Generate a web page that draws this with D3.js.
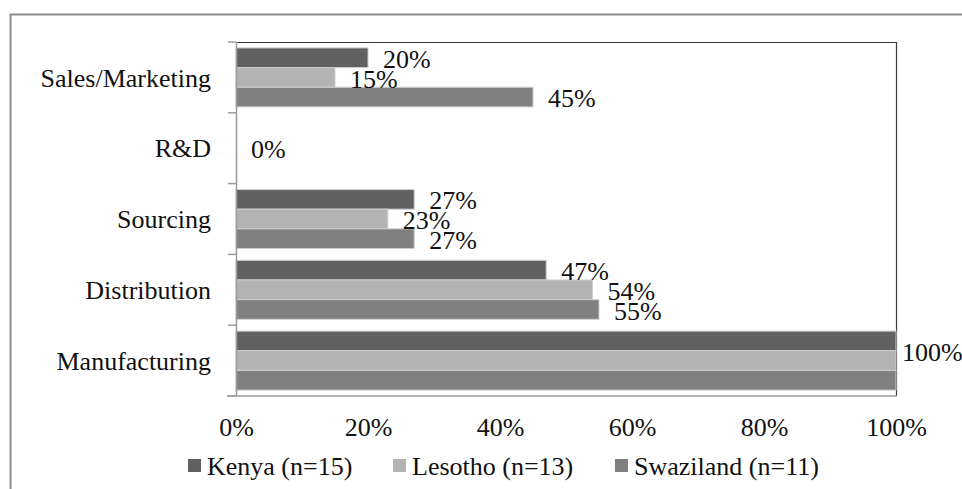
<!DOCTYPE html>
<html>
<head>
<meta charset="utf-8">
<script src="https://cdn.jsdelivr.net/npm/d3@7"></script>
<style>
  body { margin: 0; background: #fff; }
  svg { display: block; font-family: 'Liberation Serif', 'Times New Roman', serif; }
</style>
</head>
<body>
<svg id="chart"></svg>
<script>
'use strict';

// data
var categories = ['Sales/Marketing', 'R&D', 'Sourcing', 'Distribution', 'Manufacturing'];
var series = ['Kenya (n=15)', 'Lesotho (n=13)', 'Swaziland (n=11)'];
var kenya = [20, 0, 27, 47, 100];
var lesotho = [15, 0, 23, 54, 100];
var swaziland = [45, 0, 27, 55, 100];
var xTicks = [0, 20, 40, 60, 80, 100];
var colors = ['#616161', '#b3b3b3', '#808080'];

var width = 962, height = 489;
var plot = { left: 236, right: 896, top: 42, bottom: 396 };
var fontSize = 26;

var svg = d3.select('#chart')
  .attr('width', width)
  .attr('height', height);

// outer frame (cut by the picture edge on right/bottom)
svg.append('path')
  .attr('d', 'M10.5,' + (height + 2) + 'V14.5H' + (width + 2))
  .attr('fill', 'none')
  .attr('stroke', '#8c8c8c')
  .attr('stroke-width', 2);

var x = d3.scaleLinear()
  .domain([0, 100])
  .range([plot.left, plot.right]);

var y = d3.scaleBand()
  .domain(categories)
  .range([plot.top, plot.bottom])
  .padding(0);

var ySub = d3.scaleBand()
  .domain(series)
  .range([0, y.bandwidth()])
  .paddingInner(0)
  .paddingOuter(0.3);

var rows = [];
categories.forEach(function (c, i) {
  [kenya, lesotho, swaziland].forEach(function (arr, s) {
    rows.push({ cat: c, ser: series[s], s: s, value: arr[i] });
  });
});

// plot area box: dark top and right edge
svg.append('path')
  .attr('d', 'M' + plot.left + ',' + (plot.top + 0.5) + 'H' + (plot.right + 0.5) + 'V' + plot.bottom)
  .attr('fill', 'none')
  .attr('stroke', '#3a3a3a')
  .attr('stroke-width', 1.2);

// bars
svg.selectAll('.bar')
  .data(rows.filter(function (d) { return d.value > 0; }))
  .enter().append('rect')
  .attr('class', 'bar')
  .attr('x', x(0))
  .attr('y', function (d) { return y(d.cat) + ySub(d.ser); })
  .attr('width', function (d) { return x(d.value) - x(0); })
  .attr('height', ySub.bandwidth())
  .attr('fill', function (d) { return colors[d.s]; })
  .attr('stroke', '#cfcfcf')
  .attr('stroke-width', 1);

// data labels: equal values in a group only get one label (middle series)
function showLabel(d) {
  var i = categories.indexOf(d.cat);
  var allSame = kenya[i] === lesotho[i] && lesotho[i] === swaziland[i];
  return allSame ? d.s === 1 : true;
}

svg.selectAll('.lbl')
  .data(rows.filter(showLabel))
  .enter().append('text')
  .attr('class', 'lbl')
  .attr('x', function (d) { return d.value >= 100 ? x(d.value) + 6 : x(d.value) + 15; })
  .attr('y', function (d) {
    var c = y(d.cat) + ySub(d.ser) + ySub.bandwidth() / 2;
    return d.value >= 100 ? c - 9 : c + 1;
  })
  .attr('dy', '0.35em')
  .attr('font-size', fontSize)
  .attr('fill', '#111')
  .text(function (d) { return d.value + '%'; });

// category axis
var yAxis = svg.append('g')
  .attr('transform', 'translate(' + plot.left + ',0)');
yAxis.append('line')
  .attr('x1', 0.5).attr('x2', 0.5)
  .attr('y1', plot.top).attr('y2', plot.bottom)
  .attr('stroke', '#9a9a9a').attr('stroke-width', 1.5);
var yEdges = categories.map(function (c) { return y(c); }).concat([plot.bottom]);
yAxis.selectAll('.tk')
  .data(yEdges)
  .enter().append('line')
  .attr('x1', -8).attr('x2', 0)
  .attr('y1', function (d) { return d; })
  .attr('y2', function (d) { return d; })
  .attr('stroke', '#9a9a9a').attr('stroke-width', 1.5);
yAxis.selectAll('.cat')
  .data(categories)
  .enter().append('text')
  .attr('x', -25)
  .attr('y', function (d) { return y(d) + y.bandwidth() / 2; })
  .attr('dy', '0.35em')
  .attr('text-anchor', 'end')
  .attr('font-size', fontSize)
  .attr('fill', '#111')
  .text(function (d) { return d; });

// value axis
var xAxis = svg.append('g')
  .attr('transform', 'translate(0,' + plot.bottom + ')')
  .call(d3.axisBottom(x).tickValues(xTicks).tickSize(0).tickPadding(22)
    .tickFormat(function (d) { return d + '%'; }));
xAxis.attr('font-family', null).attr('font-size', null);
xAxis.select('.domain').remove();
xAxis.append('line')
  .attr('x1', plot.left - 9).attr('x2', plot.right + 1)
  .attr('y1', 0).attr('y2', 0)
  .attr('stroke', '#9a9a9a').attr('stroke-width', 1.5);
xAxis.selectAll('text')
  .attr('font-size', fontSize)
  .attr('fill', '#111');

// legend
var legendX = [188, 393, 615];
var legend = svg.append('g')
  .attr('transform', 'translate(0,466)');
var item = legend.selectAll('.leg')
  .data(series)
  .enter().append('g')
  .attr('transform', function (d, i) { return 'translate(' + legendX[i] + ',0)'; });
item.append('rect')
  .attr('x', 0).attr('y', -7)
  .attr('width', 13).attr('height', 13)
  .attr('fill', function (d, i) { return colors[i]; });
item.append('text')
  .attr('x', 19)
  .attr('dy', '0.35em')
  .attr('font-size', fontSize)
  .attr('fill', '#111')
  .text(function (d) { return d; });
</script>
</body>
</html>
